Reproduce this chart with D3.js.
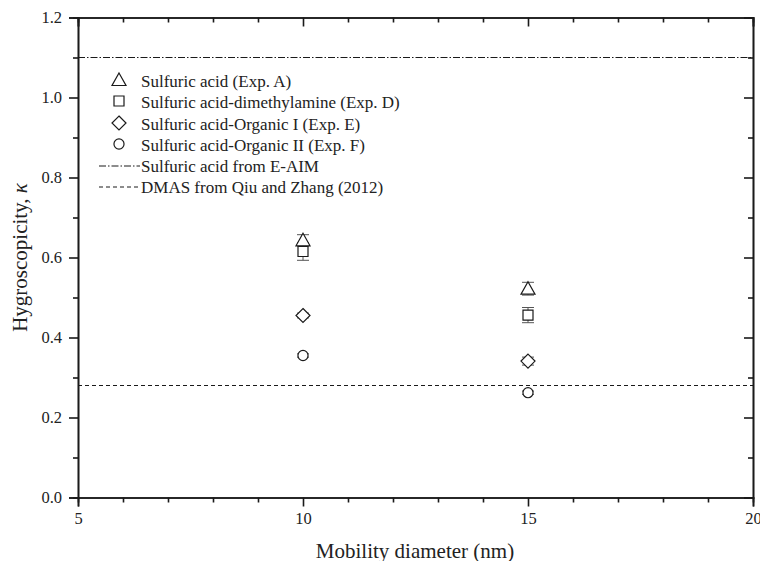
<!DOCTYPE html>
<html><head><meta charset="utf-8">
<script src="https://cdn.jsdelivr.net/npm/d3@7"></script>
<style>body{margin:0;background:#fff}svg{display:block}text{font-family:"Liberation Serif","Times New Roman",serif;fill:#222}</style>
</head><body><svg id="c" width="760" height="561"></svg>
<script>
const diameters = [10, 15];
const seriesNames = ["Sulfuric acid (Exp. A)", "Sulfuric acid-dimethylamine (Exp. D)", "Sulfuric acid-Organic I (Exp. E)", "Sulfuric acid-Organic II (Exp. F)"];
const seriesSymbols = ["triangle", "square", "diamond", "circle"];
const kappaA = [0.643, 0.522];
const kappaD = [0.615, 0.456];
const kappaE = [0.455, 0.341];
const kappaF = [0.355, 0.262];
const errA = [0.014, 0.016];
const errD = [0.022, 0.019];
const errE = [0.006, 0.010];
const errF = [0.004, 0.004];
const refNames = ["Sulfuric acid from E-AIM", "DMAS from Qiu and Zhang (2012)"];
const refValues = [1.1, 0.28];
const xTicks = [5, 10, 15, 20];
const yTicks = [0.0, 0.2, 0.4, 0.6, 0.8, 1.0, 1.2];

const svg = d3.select("#c");
const L = 78, R = 753, T = 17.5, B = 497.5;
const x = d3.scaleLinear().domain([5, 20]).range([L, R]);
const y = d3.scaleLinear().domain([0, 1.2]).range([B, T]);
const col = "#1a1a1a";

// reference lines
const refDash = ["7,2,1.5,2", "4,3"];
refValues.forEach((v, i) => {
  svg.append("line").attr("x1", L).attr("x2", R).attr("y1", y(v)).attr("y2", y(v))
    .attr("stroke", col).attr("stroke-width", 1).attr("stroke-dasharray", refDash[i]);
});

// axes
svg.append("g").attr("transform", `translate(0,${B})`)
  .call(d3.axisBottom(x).tickValues(xTicks).tickFormat(d3.format("d")).tickSize(9).tickPadding(6));
svg.append("g").attr("transform", `translate(${L},0)`)
  .call(d3.axisLeft(y).tickValues(yTicks).tickFormat(d3.format(".1f")).tickSize(9).tickPadding(7));
svg.append("g").attr("transform", `translate(0,${T})`)
  .call(d3.axisTop(x).tickValues(xTicks).tickFormat("").tickSize(-9));
svg.append("g").attr("transform", `translate(${R},0)`)
  .call(d3.axisRight(y).tickValues(yTicks).tickFormat("").tickSize(-9));
const xMinor = d3.range(5, 20.01, 1).filter(v => v % 5 !== 0);
const yMinor = d3.range(0.1, 1.2, 0.2);
svg.append("g").attr("transform", `translate(0,${B})`).call(d3.axisBottom(x).tickValues(xMinor).tickFormat("").tickSize(5));
svg.append("g").attr("transform", `translate(0,${T})`).call(d3.axisTop(x).tickValues(xMinor).tickFormat("").tickSize(-5));
svg.append("g").attr("transform", `translate(${L},0)`).call(d3.axisLeft(y).tickValues(yMinor).tickFormat("").tickSize(5));
svg.append("g").attr("transform", `translate(${R},0)`).call(d3.axisRight(y).tickValues(yMinor).tickFormat("").tickSize(-5));
svg.selectAll(".domain").attr("stroke", col).attr("stroke-width", 1.6);
svg.selectAll(".tick line").attr("stroke", col).attr("stroke-width", 1.6);
svg.selectAll(".tick text").style("font-size", "16.5px").attr("fill", "#222");

// axis labels
svg.append("text").attr("x", 415).attr("y", 558).attr("text-anchor", "middle")
  .style("font-size", "21px").text("Mobility diameter (nm)");
const yl = svg.append("text").attr("transform", `translate(27,${(T + B) / 2}) rotate(-90)`)
  .attr("text-anchor", "middle").style("font-size", "21px");
yl.append("tspan").text("Hygroscopicity, ");
yl.append("tspan").style("font-style", "italic").text("κ");

// markers
function symPath(t) {
  if (t === "triangle") return "M0,-7L7,5.5L-7,5.5Z";
  if (t === "square") return "M-5,-5H5V5H-5Z";
  if (t === "diamond") return "M0,-7L7,0L0,7L-7,0Z";
  return d3.symbol().type(d3.symbolCircle).size(80)();
}
function sym(g, t, cx, cy) {
  g.append("path").attr("d", symPath(t)).attr("transform", `translate(${cx},${cy})`)
    .attr("fill", "#fff").attr("stroke", col).attr("stroke-width", 1.2);
}
const vals = [kappaA, kappaD, kappaE, kappaF];
const errs = [errA, errD, errE, errF];
const gErr = svg.append("g");
const gPts = svg.append("g");
vals.forEach((arr, si) => {
  arr.forEach((v, di) => {
    const cx = x(diameters[di]);
    const e = errs[si][di];
    [v + e, v - e].forEach(ev => {
      gErr.append("line").attr("x1", cx).attr("x2", cx).attr("y1", y(v)).attr("y2", y(ev)).attr("stroke", "#555").attr("stroke-width", 1);
      gErr.append("line").attr("x1", cx - 6).attr("x2", cx + 6).attr("y1", y(ev)).attr("y2", y(ev)).attr("stroke", "#555").attr("stroke-width", 1);
    });
    sym(gPts, seriesSymbols[si], cx, y(v));
  });
});

// legend
const lg = svg.append("g");
const rowY = [81, 102, 124, 145, 166, 187];
seriesNames.forEach((n, i) => {
  sym(lg, seriesSymbols[i], 119, rowY[i] - 1);
  lg.append("text").attr("x", 141).attr("y", rowY[i] + 5.5).style("font-size", "17px").text(n);
});
refNames.forEach((n, i) => {
  const yy = rowY[4 + i];
  lg.append("line").attr("x1", 99).attr("x2", 140).attr("y1", yy).attr("y2", yy)
    .attr("stroke", col).attr("stroke-width", 1).attr("stroke-dasharray", refDash[i]);
  lg.append("text").attr("x", 141).attr("y", yy + 5.5).style("font-size", "17px").text(n);
});
</script></body></html>
